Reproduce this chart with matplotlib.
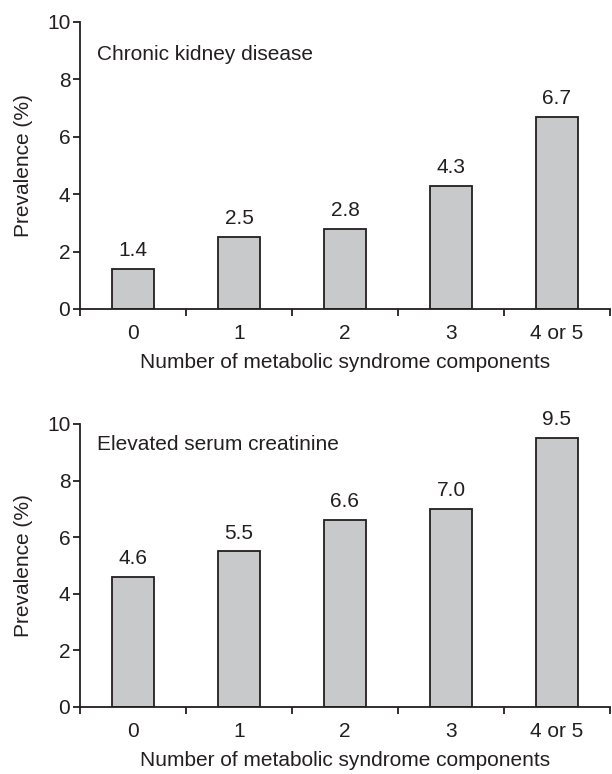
import matplotlib
matplotlib.use("Agg")
import matplotlib.pyplot as plt
import numpy as np

plt.rcParams['font.family'] = ['Liberation Sans', 'DejaVu Sans']

categories = ["0", "1", "2", "3", "4 or 5"]
ckd = [1.4, 2.5, 2.8, 4.3, 6.7]
creat = [4.6, 5.5, 6.6, 7.0, 9.5]
ckd_labels = ["1.4", "2.5", "2.8", "4.3", "6.7"]
creat_labels = ["4.6", "5.5", "6.6", "7.0", "9.5"]
titles = ["Chronic kidney disease", "Elevated serum creatinine"]
xlabel = "Number of metabolic syndrome components"
ylabel = "Prevalence (%)"

fig = plt.figure(figsize=(6.12, 7.74), dpi=100)
ax1 = fig.add_axes([0.1307, 0.6008, 0.866, 0.3708])
ax2 = fig.add_axes([0.1307, 0.0866, 0.866, 0.3656])

fs = 15
tc = "#231f20"
for ax, vals, labs, title, ty in [(ax1, ckd, ckd_labels, titles[0], 0.885),
                                  (ax2, creat, creat_labels, titles[1], 0.926)]:
    x = np.arange(len(categories))
    ax.bar(x, vals, width=0.4, color="#c8c9ca", edgecolor=tc, linewidth=1.3)
    for xi, v, l in zip(x, vals, labs):
        ax.text(xi, v + 0.45, l, ha="center", va="baseline", fontsize=fs, color=tc)
    ax.set_xlim(-0.5, 4.5)
    ax.set_ylim(0, 10)
    ax.set_yticks([0, 2, 4, 6, 8, 10])
    ax.set_xticks(x)
    ax.set_xticklabels(categories, fontsize=fs, color=tc)
    ax.set_xticks(np.arange(-0.5, 4.6, 1.0), minor=True)
    ax.tick_params(axis="x", which="major", length=0, pad=11)
    ax.tick_params(axis="x", which="minor", length=5, width=1.3, direction="out", color=tc)
    ax.tick_params(axis="y", length=5, width=1.3, direction="out", labelsize=fs,
                   labelcolor=tc, color=tc, pad=2)
    for s in ["top", "right"]:
        ax.spines[s].set_visible(False)
    for s in ["left", "bottom"]:
        ax.spines[s].set_linewidth(1.3)
        ax.spines[s].set_color(tc)
    ax.set_xlabel(xlabel, fontsize=fs, color=tc, labelpad=7)
    ax.set_ylabel(ylabel, fontsize=fs, color=tc, labelpad=10)
    ax.text(0.032, ty, title, transform=ax.transAxes, fontsize=fs, color=tc,
            va="center", ha="left")

fig.savefig("out.png", dpi=100)
